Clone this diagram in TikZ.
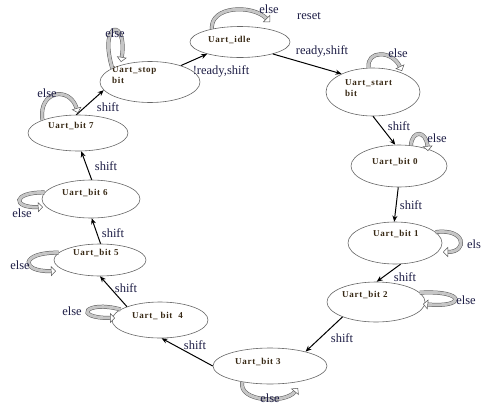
\documentclass[tikz,border=0pt]{standalone}
\usepackage{fontspec}
\setmainfont{Liberation Serif}
\newfontfamily\statefont[LetterSpace=8]{Liberation Serif}
\usetikzlibrary{arrows.meta,shapes.geometric}
\definecolor{lblc}{RGB}{30,30,70}
\definecolor{stc}{RGB}{55,40,20}
\tikzset{
  st/.style={ellipse, draw=black!60, line width=0.6pt, inner sep=0pt},
  stxt/.style={font=\statefont\bfseries\fontsize{9}{11}\selectfont, text=stc, inner sep=0pt, anchor=west, align=left},
  lbl/.style={font=\fontsize{12.5}{14}\selectfont, text=lblc, inner sep=0pt},
  tr/.style={draw=black, line width=1pt, -{Stealth[length=6pt,width=5pt]}},
  selfloop/.style={draw=black!65, line width=0.5pt, double=gray!45, double distance=3pt,
    -{Triangle[open,length=5pt,width=10pt,fill=white]}},
}
\begin{document}
\begin{tikzpicture}[x=1pt,y=-1pt]
\useasboundingbox (0,0) rectangle (483,405);
% states
\node[st, minimum width=100pt, minimum height=31pt] (idle) at (240,42) {};
\node[st, minimum width=100pt, minimum height=41pt] (stop) at (150,82) {};
\node[st, minimum width=94pt, minimum height=48pt] (start) at (373,92) {};
\node[st, minimum width=96pt, minimum height=42pt] (b0) at (399,166) {};
\node[st, minimum width=94pt, minimum height=42pt] (b1) at (395,243) {};
\node[st, minimum width=98pt, minimum height=40pt] (b2) at (376,302) {};
\node[st, minimum width=114pt, minimum height=36pt] (b3) at (270,366) {};
\node[st, minimum width=96pt, minimum height=36pt] (b4) at (160,320) {};
\node[st, minimum width=92pt, minimum height=32pt] (b5) at (100,260) {};
\node[st, minimum width=98pt, minimum height=38pt] (b6) at (91,199) {};
\node[st, minimum width=100pt, minimum height=36pt] (b7) at (78,133) {};
% state texts
\node[stxt] (tidle) at (208,40) {Uart\_idle};
\node[stxt, anchor=north west] (tstop) at (112,66) {Uart\_stop\\bit};
\node[stxt, anchor=north west] (tstart) at (345,79) {Uart\_start\\bit};
\node[stxt] (t0) at (372,162) {Uart\_bit 0};
\node[stxt] (t1) at (373,234) {Uart\_bit 1};
\node[stxt] (t2) at (342,295) {Uart\_bit 2};
\node[stxt] (t3) at (235,362) {Uart\_bit 3};
\node[stxt] (t4) at (132,316) {Uart\_ bit\ \ 4};
\node[stxt] (t5) at (73,253) {Uart\_bit 5};
\node[stxt] (t6) at (62,193) {Uart\_bit 6};
\node[stxt] (t7) at (48,126) {Uart\_bit 7};
% transitions
\draw[tr] (stop.28) -- (idle.200);
\draw[tr] (idle.-20) -- (start.150);
\draw[tr] (start.-90) -- (b0.100);
\draw[tr] (b0.-92) -- (b1.92);
\draw[tr] (b1.-75) -- (b2.88);
\draw[tr] (b2.-156) -- (b3.22);
\draw[tr] (b3.180) -- (b4.-85);
\draw[tr] (b4.158) -- (b5.-90);
\draw[tr] (b5.88) -- (b6.-88);
\draw[tr] (b6.88) -- (b7.-80);
\draw[tr] (b7.95) -- (stop.190);
% loop ends
\coordinate (eidle) at (270,22);
\coordinate (estop) at (121,62);
\coordinate (estart) at (402,71);
\coordinate (e0) at (428,151);
\coordinate (e1) at (443,252);
\coordinate (e2) at (423,304);
\coordinate (e3) at (298,388);
\coordinate (e4) at (115,318);
\coordinate (e5) at (56,271);
\coordinate (e6) at (43,207);
\coordinate (e7) at (78,113);
% self loops
\draw[selfloop] (idle.155) .. controls (210,6) and (252,4) .. (eidle);
\draw[selfloop] (stop.160) .. controls (98,20) and (128,18) .. (estop);
\draw[selfloop] (start.100) .. controls (366,50) and (392,50) .. (estart);
\draw[selfloop] (b0.60) .. controls (412,130) and (426,130) .. (e0);
\draw[selfloop] (b1.15) .. controls (466,228) and (468,252) .. (e1);
\draw[selfloop] (b2.12) .. controls (466,290) and (466,308) .. (e2);
\draw[selfloop] (b3.-150) .. controls (238,402) and (285,404) .. (e3);
\draw[selfloop] (b4.165) .. controls (86,300) and (72,318) .. (e4);
\draw[selfloop] (b5.170) .. controls (20,252) and (20,272) .. (e5);
\draw[selfloop] (b6.172) .. controls (12,192) and (12,208) .. (e6);
\draw[selfloop] (b7.160) .. controls (38,90) and (70,86) .. (e7);
% labels
\node[lbl] (lel) at (269,9) {else};
\node[lbl] (lrs) at (309,16) {reset};
\node[lbl] (lrd) at (322,51) {ready,shift};
\node[lbl] (lnrd) at (221,71) {!ready,shift};
\node[lbl] (lstel) at (398,53) {else};
\node[lbl] (ls0) at (399,126) {shift};
\node[lbl] (l0el) at (437,138) {else};
\node[lbl] (ls1) at (411,205) {shift};
\node[lbl] (l1el) at (474,244) {els};
\node[lbl] (ls2) at (405,277) {shift};
\node[lbl] (l2el) at (466,300) {else};
\node[lbl] (ls3) at (342,338) {shift};
\node[lbl] (l3el) at (270,398) {else};
\node[lbl] (ls4) at (195,345) {shift};
\node[lbl] (l4el) at (72,311) {else};
\node[lbl] (ls5) at (126,288) {shift};
\node[lbl] (l5el) at (20,265) {else};
\node[lbl] (ls6) at (113,233) {shift};
\node[lbl] (l6el) at (22,213) {else};
\node[lbl] (ls7) at (106,166) {shift};
\node[lbl] (l7el) at (47,93) {else};
\node[lbl] (lsst) at (108,107) {shift};
\node[lbl] (lstopel) at (115,33) {else};
\end{tikzpicture}
\end{document}
